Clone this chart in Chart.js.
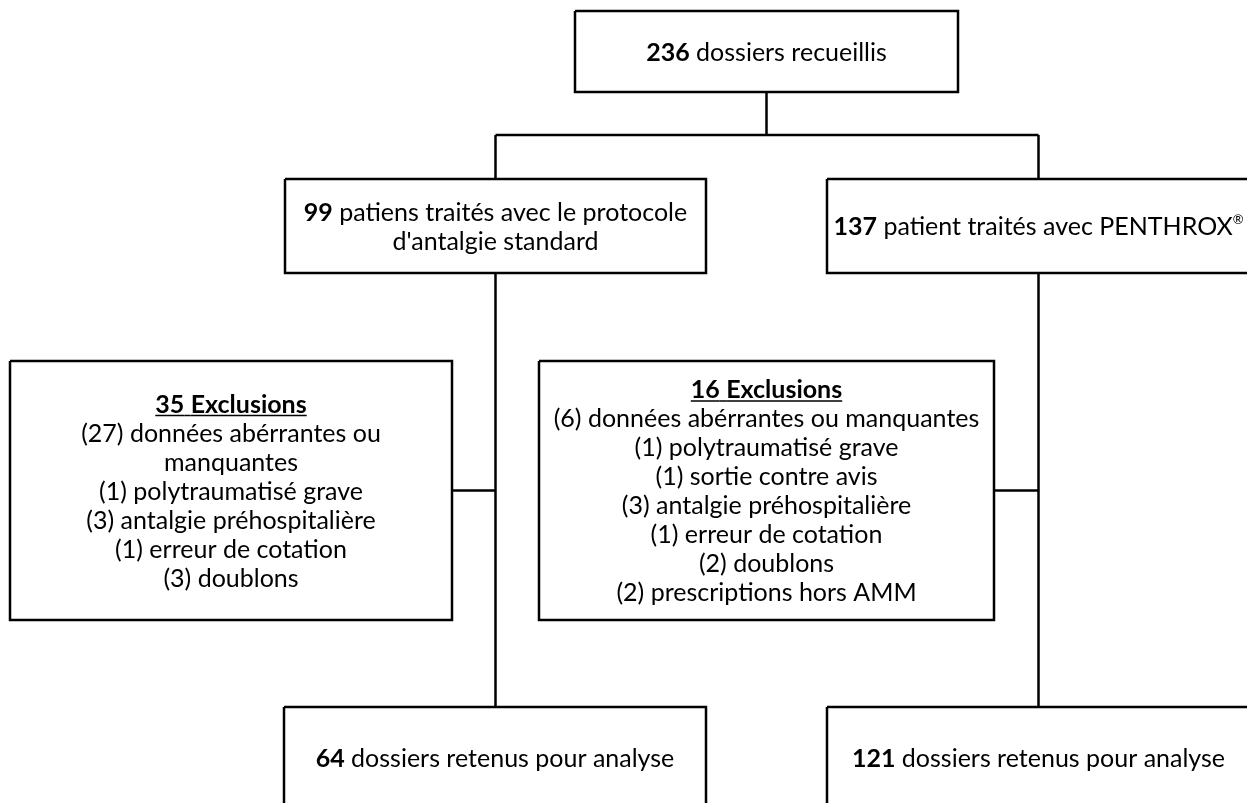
<!DOCTYPE html>
<html>
<head>
<meta charset="utf-8">
<script src="https://cdn.jsdelivr.net/npm/chart.js@4.4.0/dist/chart.umd.min.js"></script>
<style>
  html, body { margin: 0; padding: 0; background: #fff; }
  #wrap { width: 1247px; height: 803px; position: relative; }
</style>
</head>
<body>
<div id="wrap"><canvas id="chart"></canvas></div>
<script>
// Flow counts
const totalCount = 236;
const groupNames = ["patiens traités avec le protocole d'antalgie standard", 'patient traités avec PENTHROX'];
const groupCounts = [99, 137];
const exclusionCounts = [35, 16];
const standardReasons = ['données abérrantes ou manquantes', 'polytraumatisé grave', 'antalgie préhospitalière', 'erreur de cotation', 'doublons'];
const standardReasonCounts = [27, 1, 3, 1, 3];
const penthroxReasons = ['données abérrantes ou manquantes', 'polytraumatisé grave', 'sortie contre avis', 'antalgie préhospitalière', 'erreur de cotation', 'doublons', 'prescriptions hors AMM'];
const penthroxReasonCounts = [6, 1, 1, 3, 1, 2, 2];
const retainedCounts = [64, 121];

// Layout of the boxes, in the chart's own units (x 0-1247, y 0-803 from the top)
const layout = {
  total:    { x0: 575, x1: 958,  y0: 11,  y1: 92 },
  standard: { x0: 285, x1: 706,  y0: 179, y1: 273 },
  penthrox: { x0: 827, x1: 1250, y0: 179, y1: 273 },
  exclStd:  { x0: 10,  x1: 452,  y0: 361, y1: 620 },
  exclPen:  { x0: 539, x1: 994,  y0: 361, y1: 620 },
  keptStd:  { x0: 284, x1: 706,  y0: 707, y1: 809 },
  keptPen:  { x0: 827, x1: 1250, y0: 707, y1: 809 },
};
const splitY = 135;

const FONT = 'Lato, "Liberation Sans", sans-serif';
const SIZE = 25;
const LINE_H = 29;
const PAD = 10;

// text of each box, as paragraphs made of styled runs
function reasonLines(counts, reasons) {
  return reasons.map((r, i) => [{ t: '(' + counts[i] + ') ' + r }]);
}
const boxTexts = {
  total: [[{ t: String(totalCount), b: true }, { t: ' dossiers recueillis' }]],
  standard: [[{ t: String(groupCounts[0]), b: true }, { t: ' ' + groupNames[0] }]],
  penthrox: [[{ t: String(groupCounts[1]), b: true }, { t: ' ' + groupNames[1] }, { t: '®', sup: true }]],
  exclStd: [[{ t: exclusionCounts[0] + ' Exclusions', b: true, u: true }]].concat(reasonLines(standardReasonCounts, standardReasons)),
  exclPen: [[{ t: exclusionCounts[1] + ' Exclusions', b: true, u: true }]].concat(reasonLines(penthroxReasonCounts, penthroxReasons)),
  keptStd: [[{ t: String(retainedCounts[0]), b: true }, { t: ' dossiers retenus pour analyse' }]],
  keptPen: [[{ t: String(retainedCounts[1]), b: true }, { t: ' dossiers retenus pour analyse' }]],
};

function rectPoints(b) {
  return [
    { x: b.x0, y: b.y0 }, { x: b.x1, y: b.y0 }, { x: b.x1, y: b.y1 },
    { x: b.x0, y: b.y1 }, { x: b.x0, y: b.y0 },
  ];
}
function cx(b) { return (b.x0 + b.x1) / 2; }
function cy(b) { return (b.y0 + b.y1) / 2; }

const L = layout;
const connectors = [
  [{ x: cx(L.total), y: L.total.y1 }, { x: cx(L.total), y: splitY }],
  [{ x: cx(L.standard), y: splitY }, { x: cx(L.penthrox), y: splitY }],
  [{ x: cx(L.standard), y: splitY }, { x: cx(L.standard), y: L.standard.y0 }],
  [{ x: cx(L.penthrox), y: splitY }, { x: cx(L.penthrox), y: L.penthrox.y0 }],
  [{ x: cx(L.standard), y: L.standard.y1 }, { x: cx(L.standard), y: L.keptStd.y0 }],
  [{ x: cx(L.penthrox), y: L.penthrox.y1 }, { x: cx(L.penthrox), y: L.keptPen.y0 }],
  [{ x: L.exclStd.x1, y: cy(L.exclStd) }, { x: cx(L.standard), y: cy(L.exclStd) }],
  [{ x: L.exclPen.x1, y: cy(L.exclPen) }, { x: cx(L.penthrox), y: cy(L.exclPen) }],
];

const lineStyle = {
  type: 'line', showLine: true, pointRadius: 0, borderColor: '#000',
  borderWidth: 2.5, tension: 0, fill: false, borderJoinStyle: 'miter',
};
const datasets = Object.keys(layout).map(k => Object.assign({ data: rectPoints(layout[k]) }, lineStyle))
  .concat(connectors.map(c => Object.assign({ data: c }, lineStyle)));

function fontFor(tok) {
  const size = tok.sup ? Math.round(SIZE * 0.5) : SIZE;
  return (tok.b ? 'bold ' : '') + size + 'px ' + FONT;
}

function tokenize(runs) {
  const toks = [];
  runs.forEach(r => {
    r.t.split(' ').forEach((p, i) => {
      if (p === '') return;
      toks.push({ t: p, b: r.b, u: r.u, sup: r.sup, glue: i === 0 && toks.length > 0 && !r.t.startsWith(' ') });
    });
  });
  return toks;
}

function wrap(ctx, runs, maxW) {
  ctx.font = SIZE + 'px ' + FONT;
  const sp = ctx.measureText(' ').width;
  const lines = [];
  let cur = [], w = 0;
  tokenize(runs).forEach(tok => {
    ctx.font = fontFor(tok);
    tok.w = ctx.measureText(tok.t).width;
    const add = (cur.length && !tok.glue ? sp : 0) + tok.w;
    if (cur.length && !tok.glue && w + add > maxW) {
      lines.push({ toks: cur, w: w });
      cur = [tok]; w = tok.w;
    } else {
      cur.push(tok); w += add;
    }
  });
  if (cur.length) lines.push({ toks: cur, w: w });
  return { lines: lines, sp: sp };
}

const boxText = {
  id: 'boxText',
  afterDatasetsDraw(chart) {
    const ctx = chart.ctx;
    const xs = chart.scales.x, ys = chart.scales.y;
    ctx.save();
    ctx.fillStyle = '#000';
    ctx.strokeStyle = '#000';
    ctx.textBaseline = 'alphabetic';
    Object.keys(boxTexts).forEach(k => {
      const b = layout[k];
      const left = xs.getPixelForValue(b.x0), right = xs.getPixelForValue(Math.min(b.x1, xs.max));
      const midX = xs.getPixelForValue(cx(b));
      const midY = ys.getPixelForValue(cy(b));
      let all = [];
      let sp = 0;
      boxTexts[k].forEach(par => {
        const r = wrap(ctx, par, right - left - 2 * PAD);
        all = all.concat(r.lines);
        sp = r.sp;
      });
      const n = all.length;
      all.forEach((line, i) => {
        const base = midY - (n - 1) / 2 * LINE_H + i * LINE_H + SIZE * 0.36;
        let x = midX - line.w / 2;
        line.toks.forEach((tok, j) => {
          if (j > 0 && !tok.glue) {
            if (tok.u && line.toks[j - 1].u) {
              ctx.lineWidth = 1.5;
              ctx.beginPath(); ctx.moveTo(x, base + 3); ctx.lineTo(x + sp, base + 3); ctx.stroke();
            }
            x += sp;
          }
          ctx.font = fontFor(tok);
          ctx.fillText(tok.t, x, tok.sup ? base - SIZE * 0.45 : base);
          if (tok.u) {
            ctx.lineWidth = 1.5;
            ctx.beginPath(); ctx.moveTo(x, base + 3); ctx.lineTo(x + tok.w, base + 3); ctx.stroke();
          }
          x += tok.w;
        });
      });
    });
    ctx.restore();
  }
};

new Chart(document.getElementById('chart'), {
  type: 'scatter',
  data: { datasets: datasets },
  options: {
    responsive: true,
    maintainAspectRatio: false,
    animation: false,
    events: [],
    layout: { padding: 0 },
    plugins: { legend: { display: false }, tooltip: { enabled: false } },
    scales: {
      x: { type: 'linear', min: 0, max: 1247, display: false },
      y: { type: 'linear', min: 0, max: 803, reverse: true, display: false },
    },
  },
  plugins: [boxText],
});
</script>
</body>
</html>
